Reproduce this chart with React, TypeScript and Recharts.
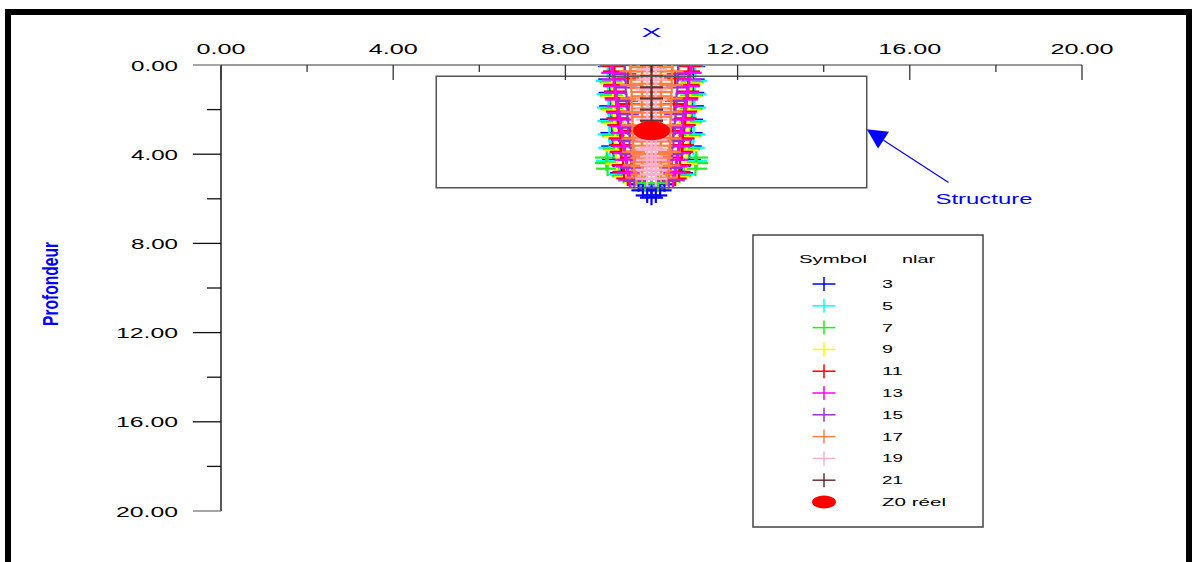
import { ScatterChart, Scatter, XAxis, YAxis, ReferenceArea, ReferenceLine, Legend } from 'recharts';

const FONT = '"Liberation Sans", Arial, sans-serif';
const BLUE = '#0000ff';

// axis ticks (major every 4, minor every 2)
const xTicks = [0, 2, 4, 6, 8, 10, 12, 14, 16, 18, 20];
const yTicks = [0, 2, 4, 6, 8, 10, 12, 14, 16, 18, 20];

const nlarLevels = [3, 5, 7, 9, 11, 13, 15, 17, 19, 21];
const nlarColors = ['#0000ff', '#00ffff', '#22ee22', '#ffff00', '#ff0000', '#ff00ff', '#9933cc', '#ff8040', '#ffb0d0', '#663333'];

// inverted positions (x, depth) for each nlar value
const pts3: [number, number][] = [
  [9.02, 0.05], [10.98, 0.05], [9.03, 0.65], [10.97, 0.65], [9.04, 1.25], [10.96, 1.25], [9.05, 1.85], [10.95, 1.85],
  [9.07, 2.45], [10.93, 2.45], [9.08, 3.05], [10.92, 3.05], [9.1, 3.65], [10.9, 3.65], [9.12, 4.25], [10.88, 4.25],
  [9.3, 4.85], [10.7, 4.85], [9.7, 5.35], [10.3, 5.35], [10.0, 5.5], [9.8, 5.62], [10.2, 5.62], [9.9, 5.85], [10.1, 5.85], [10.0, 5.95],
];
const pts5: [number, number][] = [
  [8.98, 0.0], [11.02, 0.0], [9.5, 0.0], [10.5, 0.0], [8.98, 0.71], [11.02, 0.71], [8.99, 1.31], [11.01, 1.31],
  [9.0, 1.91], [11.0, 1.91], [9.01, 2.51], [10.99, 2.51], [9.02, 3.11], [10.98, 3.11], [9.03, 3.71], [10.97, 3.71],
  [8.98, 4.31], [11.02, 4.31], [9.25, 4.91], [10.75, 4.91],
];
const pts7: [number, number][] = [
  [9.05, 0.02], [10.95, 0.02], [9.7, 0.0], [10.3, 0.0], [9.06, 0.77], [10.94, 0.77], [9.07, 1.37], [10.93, 1.37],
  [9.08, 1.97], [10.92, 1.97], [9.1, 2.57], [10.9, 2.57], [9.12, 3.17], [10.88, 3.17], [9.14, 3.77], [10.86, 3.77],
  [8.96, 4.15], [11.04, 4.15], [8.95, 4.4], [11.05, 4.4], [8.98, 4.65], [11.02, 4.65], [9.35, 4.97], [10.65, 4.97],
  [9.85, 5.3], [10.15, 5.3],
];
const pts9: [number, number][] = [
  [9.08, 0.0], [10.92, 0.0], [9.35, 0.0], [10.65, 0.0], [9.09, 0.83], [10.91, 0.83], [9.1, 1.43], [10.9, 1.43],
  [9.12, 2.03], [10.88, 2.03], [9.14, 2.63], [10.86, 2.63], [9.16, 3.23], [10.84, 3.23], [9.18, 3.83], [10.82, 3.83],
  [9.2, 4.43], [10.8, 4.43], [9.4, 5.03], [10.6, 5.03],
];
const pts11: [number, number][] = [
  [9.12, 0.04], [10.88, 0.04], [9.14, 0.29], [10.86, 0.29], [9.15, 0.89], [10.85, 0.89], [9.16, 1.19], [10.84, 1.19],
  [9.18, 1.49], [10.82, 1.49], [9.21, 2.09], [10.79, 2.09], [9.22, 2.39], [10.78, 2.39], [9.24, 2.69], [10.76, 2.69],
  [9.27, 3.29], [10.73, 3.29], [9.28, 3.59], [10.72, 3.59], [9.3, 3.89], [10.7, 3.89], [9.34, 4.49], [10.66, 4.49],
  [9.36, 4.79], [10.64, 4.79], [9.45, 5.09], [10.55, 5.09],
  [9.45, 0.6], [10.55, 0.6], [9.47, 1.75], [10.53, 1.75], [9.5, 2.95], [10.5, 2.95], [9.53, 4.15], [10.47, 4.15],
];
const pts13: [number, number][] = [
  [9.07, 0.0], [10.93, 0.0], [9.1, 0.35], [10.9, 0.35], [9.12, 0.65], [10.88, 0.65], [9.14, 0.95], [10.86, 0.95],
  [9.17, 1.25], [10.83, 1.25], [9.19, 1.55], [10.81, 1.55], [9.22, 1.85], [10.78, 1.85], [9.24, 2.15], [10.76, 2.15],
  [9.27, 2.45], [10.73, 2.45], [9.29, 2.75], [10.71, 2.75], [9.32, 3.05], [10.68, 3.05], [9.34, 3.35], [10.66, 3.35],
  [9.36, 3.65], [10.64, 3.65], [9.38, 3.95], [10.62, 3.95], [9.41, 4.25], [10.59, 4.25], [9.43, 4.55], [10.57, 4.55],
  [9.46, 4.85], [10.54, 4.85], [9.5, 5.15], [10.5, 5.15],
];
const pts15: [number, number][] = [
  [9.38, 0.0], [10.62, 0.0], [9.38, 0.41], [10.62, 0.41], [9.4, 1.01], [10.6, 1.01], [9.42, 1.61], [10.58, 1.61],
  [9.44, 2.21], [10.56, 2.21], [9.46, 2.81], [10.54, 2.81], [9.49, 3.41], [10.51, 3.41], [9.52, 4.01], [10.48, 4.01],
  [9.55, 4.61], [10.45, 4.61], [9.6, 5.2], [10.4, 5.2],
];
const pts17: [number, number][] = [
  [9.78, 0.1], [10.22, 0.1], [9.52, 0.28], [10.48, 0.28], [9.78, 0.47], [10.22, 0.47], [9.78, 0.84], [10.22, 0.84],
  [9.53, 0.9], [10.47, 0.9], [9.78, 1.21], [10.22, 1.21], [9.54, 1.5], [10.46, 1.5], [9.78, 1.58], [10.22, 1.58],
  [9.78, 1.95], [10.22, 1.95], [9.55, 2.1], [10.45, 2.1], [9.78, 2.32], [10.22, 2.32], [9.56, 2.7], [10.44, 2.7],
  [9.78, 3.06], [10.22, 3.06], [9.57, 3.3], [10.43, 3.3], [9.78, 3.43], [10.22, 3.43], [9.78, 3.8], [10.22, 3.8],
  [9.58, 3.9], [10.42, 3.9], [9.78, 4.17], [10.22, 4.17], [9.6, 4.5], [10.4, 4.5], [9.78, 4.54], [10.22, 4.54],
  [9.78, 4.91], [10.22, 4.91], [9.65, 5.05], [10.35, 5.05],
  [9.78, 0.28], [10.22, 0.28], [9.78, 0.66], [10.22, 0.66], [9.78, 1.03], [10.22, 1.03], [9.78, 1.4], [10.22, 1.4],
  [9.78, 1.77], [10.22, 1.77], [9.78, 2.14], [10.22, 2.14], [9.78, 3.25], [10.22, 3.25], [9.78, 3.62], [10.22, 3.62],
  [9.78, 3.99], [10.22, 3.99], [9.78, 4.36], [10.22, 4.36], [9.78, 4.73], [10.22, 4.73],
];
const pts19: [number, number][] = [
  [9.9, 0.2], [10.1, 0.2], [9.9, 0.65], [10.1, 0.65], [9.9, 1.1], [10.1, 1.1], [9.9, 1.55], [10.1, 1.55],
  [9.9, 2.0], [10.1, 2.0], [9.9, 2.45], [10.1, 2.45], [9.9, 3.35], [10.1, 3.35], [9.9, 3.8], [10.1, 3.8],
  [9.9, 4.25], [10.1, 4.25], [9.9, 4.7], [10.1, 4.7], [9.9, 5.1], [10.1, 5.1],
  [10.0, 3.3], [10.0, 3.7], [10.0, 4.1], [10.0, 4.5], [10.0, 4.9],
];
const pts21: [number, number][] = [
  [10.0, 0.0], [10.0, 0.5], [10.0, 1.0], [10.0, 1.5], [10.0, 2.0], [10.0, 2.5],
];
const nlarPoints = [pts3, pts5, pts7, pts9, pts11, pts13, pts15, pts17, pts19, pts21];

// true source position
const z0Reel: [number, number][] = [[10.0, 2.95]];

// buried structure outline and the pointer to it
const structureX = [5, 15];
const structureY = [0.5, 5.5];
const arrowPts: [number, number][] = [[15.0, 2.88], [16.9, 5.27]];

const toXY = (pts: [number, number][]) => pts.map(([x, y]) => ({ x, y }));

function Cross({ cx, cy, color, hw = 11.5, hh = 7.5, sw = 2.2 }: { cx: number; cy: number; color: string; hw?: number; hh?: number; sw?: number }) {
  return (
    <g>
      <line x1={cx - hw} y1={cy} x2={cx + hw} y2={cy} stroke={color} strokeWidth={sw} />
      <line x1={cx} y1={cy - hh} x2={cx} y2={cy + hh} stroke={color} strokeWidth={sw} />
    </g>
  );
}

function XTick({ x, y, payload }: any) {
  const v = payload.value as number;
  const major = v % 4 === 0;
  const label = v.toFixed(2);
  return (
    <g>
      <line x1={x} y1={y} x2={x} y2={y + (major ? 15 : 7)} stroke="#333" strokeWidth={1.3} />
      {major && (
        <text x={x} y={y - 11} textAnchor="middle" fontSize={14} fontFamily={FONT} fill="#000"
          textLength={label.length > 4 ? 63 : 49} lengthAdjust="spacingAndGlyphs">{label}</text>
      )}
    </g>
  );
}

function YTick({ x, y, payload }: any) {
  const v = payload.value as number;
  const major = v % 4 === 0;
  const label = v.toFixed(2);
  const edge = v === 0 || v === 20;
  return (
    <g>
      <line x1={x - (major ? 28 : 14)} y1={y} x2={x} y2={y} stroke={edge ? '#777' : '#111'} strokeWidth={1.3} />
      {major && (
        <text x={x - 43} y={y + 5.5} textAnchor="end" fontSize={15} fontFamily={FONT} fill="#000"
          textLength={label.length > 4 ? 62 : 47} lengthAdjust="spacingAndGlyphs">{label}</text>
      )}
    </g>
  );
}

function StructureArrow(props: any) {
  const { x1, y1, x2, y2 } = props;
  const len = Math.hypot(x2 - x1, y2 - y1) || 1;
  const ux = (x2 - x1) / len;
  const uy = (y2 - y1) / len;
  const L = 20;
  const W = 10;
  const bx = x1 + ux * L;
  const by = y1 + uy * L;
  return (
    <g>
      <line x1={bx} y1={by} x2={x2} y2={y2} stroke={BLUE} strokeWidth={1.2} />
      <polygon points={`${x1},${y1} ${bx - uy * W},${by + ux * W} ${bx + uy * W},${by - ux * W}`} fill={BLUE} />
      <text x={x2 - 13} y={y2 + 21} fill={BLUE} fontSize={15} fontFamily={FONT}
        textLength={97} lengthAdjust="spacingAndGlyphs">Structure</text>
    </g>
  );
}

function NlarLegend() {
  const rowY = (i: number) => 50 + i * 21.8;
  return (
    <svg width={232} height={295} style={{ display: 'block' }}>
      <rect x={1} y={1} width={230} height={292} fill="#fff" stroke="#444" strokeWidth={1.5} />
      <text x={47} y={29} fontSize={11} fontFamily={FONT} textLength={68} lengthAdjust="spacingAndGlyphs">Symbol</text>
      <text x={150} y={29} fontSize={11} fontFamily={FONT} textLength={33} lengthAdjust="spacingAndGlyphs">nlar</text>
      {nlarLevels.map((n, i) => (
        <g key={n}>
          <Cross cx={72} cy={rowY(i)} color={nlarColors[i]} hh={7} sw={1.5} />
          <text x={130} y={rowY(i) + 4} fontSize={11} fontFamily={FONT}
            textLength={n > 9 ? 21 : 11} lengthAdjust="spacingAndGlyphs">{n}</text>
        </g>
      ))}
      <ellipse cx={72} cy={rowY(10)} rx={12} ry={6.5} fill="#ff0000" />
      <text x={130} y={rowY(10) + 4} fontSize={11} fontFamily={FONT} textLength={64} lengthAdjust="spacingAndGlyphs">Z0 réel</text>
    </svg>
  );
}

export default function App() {
  return (
    <div style={{ position: 'absolute', left: 0, top: 0, width: 1195, height: 562, background: '#fff', overflow: 'hidden' }}>
      <div style={{ position: 'absolute', left: 5, top: 9, width: 1187, height: 570, border: '6px solid #000', boxSizing: 'border-box' }} />
      <div style={{ position: 'absolute', left: 0, top: 0 }}>
        <ScatterChart width={1195} height={562} margin={{ top: 25, right: 113, bottom: 51, left: 41 }}>
          <XAxis
            type="number" dataKey="x" orientation="top" domain={[0, 20]} ticks={xTicks} interval={0}
            allowDataOverflow height={40} tickSize={0} tickMargin={0} tick={<XTick />}
            axisLine={{ stroke: '#777', strokeWidth: 1.3 }}
            label={{
              content: ({ viewBox }: any) => (
                <text x={viewBox.x + viewBox.width / 2} y={viewBox.y + 12} textAnchor="middle" fill={BLUE}
                  fontSize={13} fontFamily={FONT} textLength={20} lengthAdjust="spacingAndGlyphs">X</text>
              ),
            }}
          />
          <YAxis
            type="number" dataKey="y" domain={[0, 20]} reversed ticks={yTicks} interval={0}
            allowDataOverflow width={180} tickSize={0} tickMargin={0} tick={<YTick />}
            axisLine={{ stroke: '#000', strokeWidth: 1.3 }}
            label={{
              content: ({ viewBox }: any) => {
                const cx = viewBox.x + 17;
                const cy = viewBox.y + viewBox.height / 2 - 4;
                return (
                  <text x={cx} y={cy} transform={`rotate(-90 ${cx} ${cy})`} textAnchor="middle" fill={BLUE}
                    fontSize={22} fontWeight="bold" fontFamily={FONT} textLength={84} lengthAdjust="spacingAndGlyphs">Profondeur</text>
                );
              },
            }}
          />
          {nlarLevels.map((n, i) => (
            <Scatter
              key={n}
              name={String(n)}
              data={toXY(nlarPoints[i])}
              fill={nlarColors[i]}
              isAnimationActive={false}
              shape={(p: any) => <Cross cx={p.cx} cy={p.cy} color={nlarColors[i]} />}
            />
          ))}
          <Scatter
            name="Z0 réel"
            data={toXY(z0Reel)}
            fill="#ff0000"
            isAnimationActive={false}
            shape={(p: any) => <ellipse cx={p.cx} cy={p.cy} rx={18.5} ry={9.5} fill="#ff0000" />}
          />
          <ReferenceArea
            x1={structureX[0]} x2={structureX[1]} y1={structureY[0]} y2={structureY[1]}
            fill="none" fillOpacity={0} stroke="#555" strokeWidth={1.5} zIndex={700}
          />
          <ReferenceLine
            segment={arrowPts.map(([x, y]) => ({ x, y }))}
            shape={(p: any) => <StructureArrow {...p} />}
            zIndex={700}
          />
          <Legend
            layout="vertical" align="center" verticalAlign="middle"
            wrapperStyle={{ position: 'absolute', left: 752, top: 234, width: 232, height: 295 }}
            content={() => <NlarLegend />}
          />
        </ScatterChart>
      </div>
    </div>
  );
}
